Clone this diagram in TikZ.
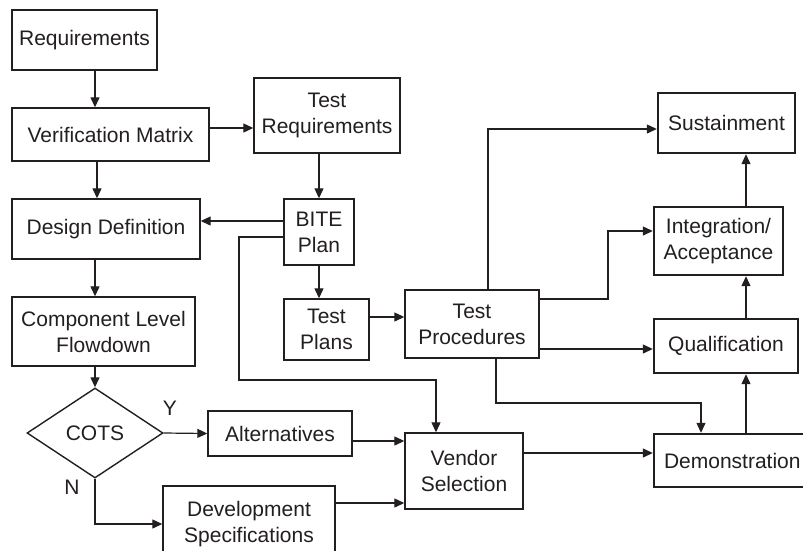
\documentclass[tikz,border=0pt]{standalone}
\usepackage{fontspec}
\setmainfont{Liberation Sans}
\usetikzlibrary{arrows.meta,shapes.geometric,calc}
\definecolor{ink}{HTML}{231F20}
\tikzset{
  box/.style={draw=ink, line width=1.4pt, align=center, inner sep=0pt, font=\fontsize{21}{26}\selectfont, text=ink},
  tbox/.style={box, line width=2.4pt},
  arr/.style={draw=ink, line width=1.2pt, -{Triangle[length=10pt,width=9pt]}},
  lbl/.style={font=\fontsize{21}{26}\selectfont, text=ink, inner sep=0pt}
}
\begin{document}
\begin{tikzpicture}[x=1pt,y=-1pt]
\useasboundingbox (0,0) rectangle (803,550);
\clip (0,0) rectangle (803,550);
\fill[white] (0,0) rectangle (803,550);
% nodes
\node[box, minimum width=145pt, minimum height=60pt] (req) at (84.5,40) {Requirements};
\node[box, minimum width=197pt, minimum height=53pt] (vm) at (110.5,134.5) {Verification Matrix};
\node[box, minimum width=146pt, minimum height=75pt] (tr) at (327,115.5) {Test\\Requirements};
\node[box, minimum width=188pt, minimum height=60pt] (dd) at (106,229) {Design Definition};
\node[box, minimum width=70pt, minimum height=66pt] (bite) at (319,232) {BITE\\Plan};
\node[box, minimum width=183pt, minimum height=69pt] (clf) at (103.5,331.5) {Component Level\\Flowdown};
\node[box, minimum width=85pt, minimum height=61pt] (tp) at (326.5,329.5) {Test\\Plans};
\node[box, minimum width=134pt, minimum height=68pt] (proc) at (472,324) {Test\\Procedures};
\node[box, diamond, aspect=1.511, minimum width=136pt, minimum height=90pt] (cots) at (95,433) {COTS};
\node[box, minimum width=144pt, minimum height=45pt] (alt) at (280,433.5) {Alternatives};
\node[box, minimum width=172pt, minimum height=76pt] (dev) at (249,524) {Development\\Specifications};
\node[box, minimum width=118pt, minimum height=76pt] (vend) at (464,471) {Vendor\\Selection};
\node[tbox, minimum width=158pt, minimum height=53pt, text width=150pt, align=left] (demo) at (733,460.5) {\hspace{6pt}Demonstration};
\node[tbox, minimum width=144pt, minimum height=54pt] (qual) at (726,346) {Qualification};
\node[tbox, minimum width=129pt, minimum height=68pt] (integ) at (718.5,241) {Integration/\\Acceptance};
\node[tbox, minimum width=137pt, minimum height=60pt] (sust) at (726.5,123) {Sustainment};
\node[lbl] (ylbl) at (170,408) {Y};
\node[lbl] (nlbl) at (72,487) {N};
% connectors
\draw[arr] (req.south -| cots.north) -- (vm.north -| cots.north);
\draw[arr] ([xshift=2pt]vm.south -| cots.north) -- ([xshift=2pt]dd.north -| cots.north);
\draw[arr] (dd.south -| cots.north) -- (clf.north -| cots.north);
\draw[arr] (clf.south -| cots.north) -- (cots.north);
\draw[arr] ([yshift=6.5pt]vm.east) -- ([yshift=6.5pt]vm.east -| tr.west);
\draw[arr] (tr.south -| bite.north) -- (bite.north);
\draw[arr] ([yshift=11pt]bite.west) -- ([yshift=11pt]bite.west -| dd.east);
\coordinate (c1) at (239,380);
\draw[arr] ([yshift=-5pt]bite.west) -| (c1) -| ([xshift=-28pt]vend.north);
\draw[arr] (bite.south) -- (bite.south |- tp.north);
\draw[arr] ([yshift=12.5pt]tp.east) -- ([yshift=12.5pt]tp.east -| proc.west);
\draw[arr] ([xshift=16pt]proc.north) |- ([yshift=-6pt]sust.west);
\coordinate (c2) at (608,299);
\draw[arr] ([yshift=25pt]proc.east) -- (c2) |- ([yshift=10pt]integ.west);
\draw[arr] ([yshift=-25pt]proc.east) -- ([yshift=-25pt]proc.east -| qual.west);
\coordinate (c3) at (496,403);
\draw[arr] ([xshift=24pt]proc.south) -- (c3) -| ([xshift=-32pt]demo.north);
\draw[arr] ([xshift=13pt]demo.north) -- ([xshift=13pt]demo.north |- qual.south);
\draw[arr] ([xshift=20pt]qual.north) -- ([xshift=20pt]qual.north |- integ.south);
\draw[arr] ([xshift=27.5pt]integ.north) -- ([xshift=27.5pt]integ.north |- sust.south);
\draw[arr] (cots.east) -- (alt.west);
\draw[arr] (cots.south) |- (dev.west);
\draw[arr] ([yshift=-7.5pt]alt.east) -- ([yshift=-7.5pt]alt.east -| vend.west);
\draw[arr] ([yshift=21pt]dev.east) -- ([yshift=21pt]dev.east -| vend.west);
\draw[arr] ([yshift=18pt]vend.east) -- ([yshift=18pt]vend.east -| demo.west);
\end{tikzpicture}
\end{document}
